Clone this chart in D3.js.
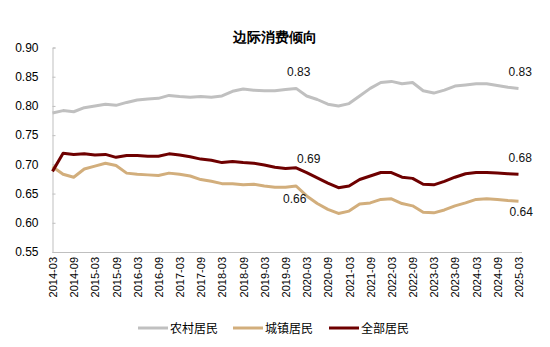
<!DOCTYPE html>
<html><head><meta charset="utf-8">
<script src="https://cdn.jsdelivr.net/npm/d3@7"></script>
<style>body{margin:0;background:#fff}svg{display:block;font-family:"Liberation Sans",Arial,sans-serif}</style>
</head><body><svg id="c" width="550" height="347"></svg>
<script>
const quarters = (function(){const a=[];for(let y=2014;y<=2025;y++){for(const m of ["03","06","09","12"]){const s=y+"-"+m;a.push(s);if(s==="2025-03")return a;}}return a;})();
const rural = [0.788,0.792,0.790,0.797,0.800,0.803,0.801,0.806,0.810,0.812,0.813,0.818,0.816,0.815,0.816,
  0.815,0.817,0.825,0.829,0.827,0.826,0.826,0.828,0.830,0.817,0.811,0.803,0.800,0.804,0.817,
  0.830,0.840,0.842,0.838,0.840,0.826,0.822,0.827,0.834,0.836,0.838,0.838,0.835,0.832,0.830];
const urban = [0.696,0.683,0.678,0.692,0.697,0.702,0.698,0.685,0.683,0.682,0.681,0.685,0.683,0.680,0.674,
  0.671,0.667,0.667,0.665,0.666,0.663,0.661,0.661,0.663,0.646,0.633,0.623,0.616,0.620,0.632,
  0.634,0.640,0.641,0.633,0.629,0.618,0.617,0.622,0.629,0.634,0.640,0.641,0.640,0.638,0.637];
const total = [0.688,0.719,0.717,0.718,0.716,0.717,0.712,0.715,0.715,0.714,0.714,0.718,0.716,0.713,0.709,
  0.707,0.703,0.705,0.703,0.702,0.699,0.695,0.693,0.694,0.686,0.677,0.668,0.660,0.663,0.674,
  0.680,0.686,0.686,0.678,0.676,0.666,0.665,0.671,0.678,0.684,0.686,0.686,0.685,0.684,0.683];
const yTicks = [0.55,0.60,0.65,0.70,0.75,0.80,0.85,0.90];
const seriesNames = ["农村居民","城镇居民","全部居民"];
const colors = ["#c0c0c0","#d2ae7c","#6e0000"];
const title = "边际消费倾向";

const svg = d3.select("#c");
const x = d3.scalePoint().domain(quarters).range([52.5,518.5]);
const y = d3.scaleLinear().domain([0.55,0.90]).range([252,47.5]);
const fmt = d3.format(".2f");

svg.append("text").attr("x",275).attr("y",42).attr("text-anchor","middle")
  .attr("font-size",14).attr("font-weight","bold").attr("fill","#000").text(title);

// y axis
const ya = svg.append("g").attr("transform","translate(52.5,0)")
  .call(d3.axisLeft(y).tickValues(yTicks).tickFormat(fmt).tickSize(-3).tickPadding(14));
ya.select(".domain").attr("stroke","#bfbfbf");
ya.selectAll(".tick line").attr("stroke","#bfbfbf");
ya.selectAll("text").attr("font-size",12).attr("fill","#000").attr("font-family","Liberation Sans, Arial");

// x axis
const xa = svg.append("g").attr("transform","translate(0,252)")
  .call(d3.axisBottom(x).tickValues(quarters.filter((d,i)=>i%2===0)).tickSize(0).tickPadding(0));
xa.select(".domain").attr("stroke","#bfbfbf").attr("d","M52.5,0.5H522");
xa.selectAll("text").attr("font-size",11).attr("fill","#000").attr("font-family","Liberation Sans, Arial")
  .attr("text-anchor","end").attr("dy",null).attr("transform","translate(4,5) rotate(-90)")
  .attr("x",0).attr("y",0);

const data = [rural,urban,total];
const line = d3.line().x((d,i)=>x(quarters[i])).y(d=>y(d));
data.forEach((s,k)=>{
  svg.append("path").attr("d",line(s)).attr("fill","none").attr("stroke",colors[k])
    .attr("stroke-width",3).attr("stroke-linejoin","round");
});

// data labels
const iMid = quarters.indexOf("2019-12"), iEnd = quarters.length-1;
const lab = (v,xx,yy)=>svg.append("text").attr("x",xx).attr("y",yy).attr("font-size",12).attr("fill","#111").text(fmt(v));
lab(rural[iMid], x(quarters[iMid])-9, y(rural[iMid])-12);
lab(total[iMid], x(quarters[iMid])+1, y(total[iMid])-5);
lab(urban[iMid], x(quarters[iMid])-13, y(urban[iMid])+17);
lab(rural[iEnd], x(quarters[iEnd])-10, y(rural[iEnd])-12);
lab(total[iEnd], x(quarters[iEnd])-10, y(total[iEnd])-12);
lab(urban[iEnd], x(quarters[iEnd])-9, y(urban[iEnd])+15);

// legend
const lx = [138,233,329];
seriesNames.forEach((n,k)=>{
  const g = svg.append("g").attr("transform",`translate(${lx[k]},328)`);
  g.append("line").attr("x1",0).attr("x2",30).attr("y1",0).attr("y2",0).attr("stroke",colors[k]).attr("stroke-width",3);
  g.append("text").attr("x",32).attr("y",5).attr("font-size",12).attr("fill","#000")
    .attr("font-family","Noto Sans CJK SC").text(n);
});
</script></body></html>
